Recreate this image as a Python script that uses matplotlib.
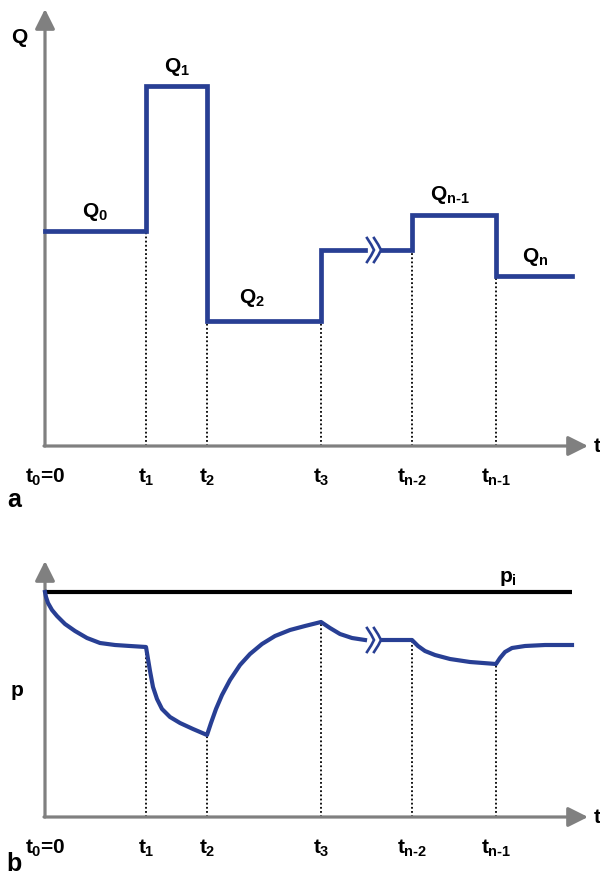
import numpy as np
import matplotlib
matplotlib.use('Agg')
import matplotlib.pyplot as plt

plt.rcParams['font.family'] = 'Liberation Sans'
plt.rcParams['font.weight'] = 'bold'
plt.rcParams['mathtext.fontset'] = 'custom'
plt.rcParams['mathtext.rm'] = 'Liberation Sans:bold'
plt.rcParams['mathtext.it'] = 'Liberation Sans:bold'
plt.rcParams['mathtext.bf'] = 'Liberation Sans:bold'

# switching times and the end of the record
t_switch = [0.0, 1.01, 1.62, 2.76, 3.67, 4.51]
t_end = 5.27
t_names = ['$t_0$=0', '$t_1$', '$t_2$', '$t_3$', r'$t_{n\text{-}2}$', r'$t_{n\text{-}1}$']
t_gap = [3.20, 3.37]   # broken time axis between t3 and t_n-2

# rate held over each period
q_rate = [2.15, 3.60, 1.25, 1.96, 2.31, 1.70]
q_names = ['$Q_0$', '$Q_1$', '$Q_2$', '', r'$Q_{n\text{-}1}$', '$Q_n$']

# pressure response (nan = break)
p_init = 2.25
p_t = [0.00, 0.01, 0.03, 0.07, 0.12, 0.20, 0.30, 0.42, 0.55, 0.70, 0.85, 1.01,
       1.03, 1.05, 1.08, 1.12, 1.17, 1.25, 1.35, 1.48, 1.62,
       1.66, 1.71, 1.77, 1.85, 1.95, 2.05, 2.17, 2.30, 2.45, 2.60, 2.76,
       2.85, 2.95, 3.07, 3.20, np.nan, 3.37, 3.67,
       3.73, 3.80, 3.90, 4.05, 4.25, 4.51,
       4.55, 4.60, 4.67, 4.80, 5.00, 5.27]
p_val = [2.25, 2.20, 2.14, 2.07, 2.01, 1.93, 1.86, 1.79, 1.74, 1.72, 1.71, 1.70,
         1.58, 1.46, 1.30, 1.18, 1.08, 1.00, 0.94, 0.88, 0.82,
         0.94, 1.08, 1.22, 1.37, 1.52, 1.63, 1.73, 1.81, 1.87, 1.91, 1.95,
         1.89, 1.83, 1.79, 1.77, np.nan, 1.77, 1.77,
         1.71, 1.66, 1.62, 1.58, 1.55, 1.53,
         1.59, 1.65, 1.69, 1.71, 1.72, 1.72]

blue = '#283f94'
grey = '#808080'
fs = 15

fig = plt.figure(figsize=(6, 8.78), dpi=100)
ax_a = fig.add_axes([0, 358 / 878, 1, 520 / 878])
ax_b = fig.add_axes([0, 0, 1, 358 / 878])
ax_a.set_xlim(-0.45, 5.55); ax_a.set_ylim(-0.73, 4.47)
ax_b.set_xlim(-0.45, 5.55); ax_b.set_ylim(-0.60, 2.98)


def frame(ax, ytop, ylab, ylab_pos, panel, panel_y):
    ax.axis('off')
    arw = dict(arrowstyle='-|>,head_length=0.6,head_width=0.3', mutation_scale=20,
               lw=2.3, color=grey, shrinkA=0, shrinkB=0)
    ax.annotate('', xy=(5.43, 0), xytext=(-0.01, 0), arrowprops=arw)
    ax.annotate('', xy=(0, ytop), xytext=(0, 0), arrowprops=arw)
    ax.text(5.52, 0, 't', ha='center', va='center', fontsize=fs)
    ax.text(ylab_pos[0], ylab_pos[1], ylab, ha='center', va='center', fontsize=fs)
    for t, s in zip(t_switch, t_names):
        ax.text(t, -0.30, s, ha='center', va='center', fontsize=fs)
    ax.text(-0.31, panel_y, panel, ha='center', va='center', fontsize=18)


def chevrons(ax, y, h):
    # two ">" marks standing in the gap
    w = 0.07
    for xa in (t_gap[0] + 0.02, t_gap[0] + 0.09):
        ax.plot([xa, xa + 0.6 * w, xa + w, xa + 0.6 * w, xa],
                [y + h, y + 0.45 * h, y, y - 0.45 * h, y - h],
                color=blue, lw=1.9, solid_joinstyle='miter')


# ---- a: rate history
frame(ax_a, 4.37, 'Q', (-0.26, 4.09), 'a', -0.53)
edges = t_switch + [t_end]
xs, ys = [], []
for i, q in enumerate(q_rate):
    a, b = edges[i], edges[i + 1]
    if a < t_gap[0] < b:
        xs += [a, t_gap[0], np.nan, t_gap[1], b]
        ys += [q, q, np.nan, q, q]
    else:
        xs += [a, b]
        ys += [q, q]
ax_a.plot(xs, ys, color=blue, lw=3.4, solid_joinstyle='miter', zorder=3)
chevrons(ax_a, q_rate[3], 0.12)

for i in range(1, len(t_switch)):
    top = min(q_rate[i - 1], q_rate[i])
    ax_a.plot([t_switch[i]] * 2, [0, top], color='k', lw=1.3, ls=(0, (1, 1.3)), zorder=2)

q_lab = [(0.50, 2.35), (1.32, 3.80), (2.07, 1.49), None, (4.05, 2.52), (4.90, 1.90)]
for s, pos in zip(q_names, q_lab):
    if pos:
        ax_a.text(pos[0], pos[1], s, ha='center', va='center', fontsize=fs)

# ---- b: pressure response
frame(ax_b, 2.56, 'p', (-0.28, 1.28), 'b', -0.46)
ax_b.plot([0, t_end], [p_init, p_init], color='k', lw=3.0, solid_capstyle='butt', zorder=3)
ax_b.text(4.63, 2.40, '$p_i$', ha='center', va='center', fontsize=fs)
ax_b.plot(p_t, p_val, color=blue, lw=3.0, solid_joinstyle='round', zorder=4)
chevrons(ax_b, 1.77, 0.12)
p_sw = np.interp(t_switch[1:], [t for t in p_t if t == t], [v for v in p_val if v == v])
for t, top in zip(t_switch[1:], p_sw):
    ax_b.plot([t, t], [0, top], color='k', lw=1.3, ls=(0, (1, 1.3)), zorder=2)

fig.savefig('out.png', dpi=100)
